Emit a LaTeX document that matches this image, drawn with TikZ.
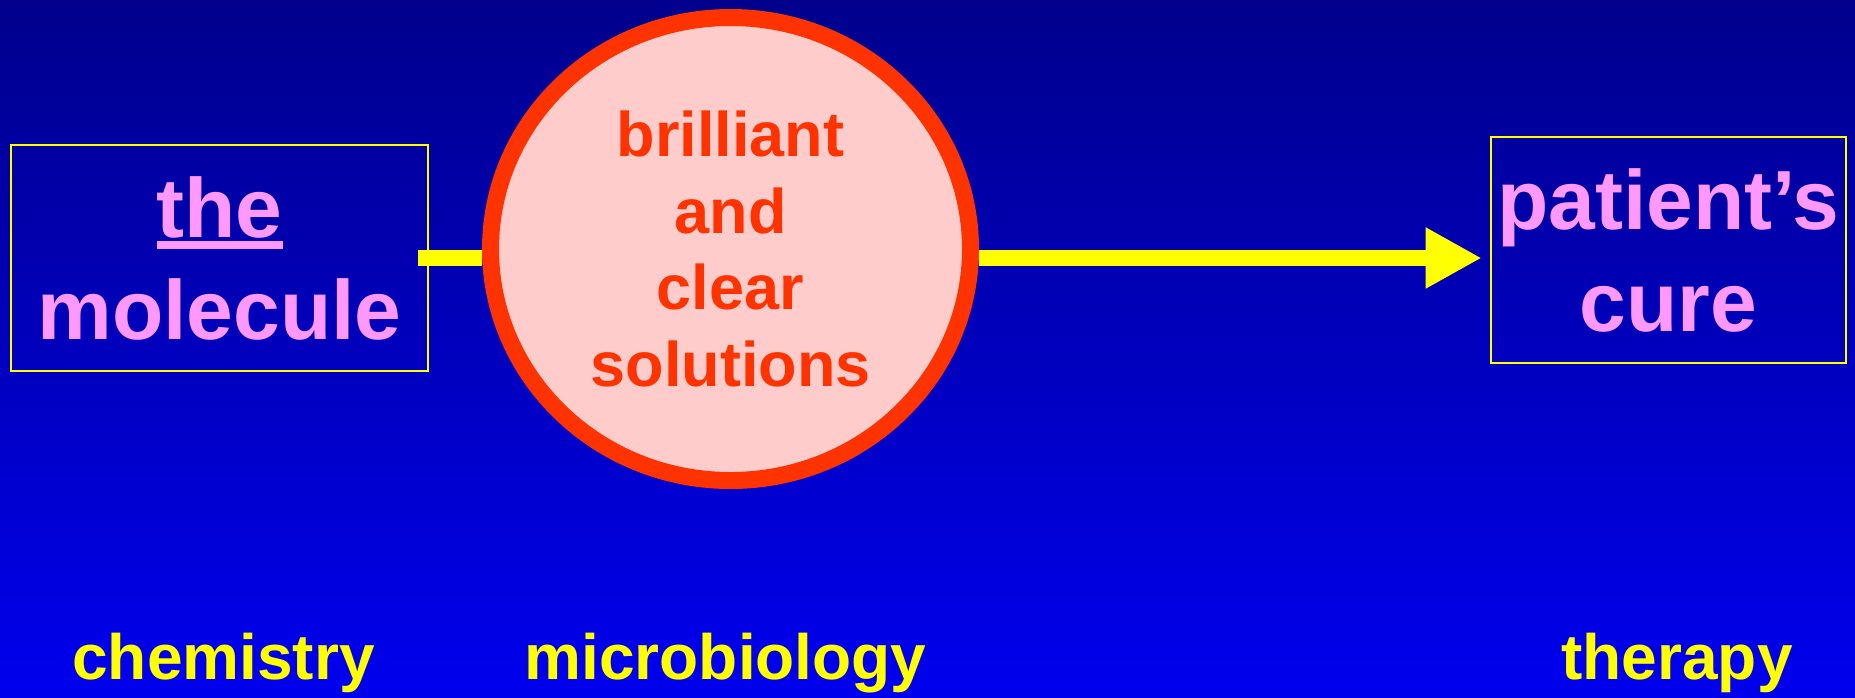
\documentclass[tikz,border=0pt]{standalone}
\usepackage{fontspec}
\setmainfont{Liberation Sans}
\definecolor{bgtop}{RGB}{0,0,140}
\definecolor{bgbottom}{RGB}{0,0,238}
\definecolor{mlpink}{RGB}{255,153,255}
\definecolor{mlred}{RGB}{255,51,0}
\definecolor{mlrose}{RGB}{255,204,204}
\definecolor{mlyellow}{RGB}{255,255,0}
\usetikzlibrary{arrows.meta,shapes.geometric}
\newcommand{\thickul}[1]{\setbox0=\hbox{#1}\rlap{\rule[-6pt]{\wd0}{4pt}}\box0}

\begin{document}
\begin{tikzpicture}[x=0.5pt,y=-0.5pt,
  endbox/.style={draw=mlyellow,line width=1pt,minimum height=113pt,align=center,text=mlpink,font=\fontsize{42}{51}\selectfont\bfseries},
  field/.style={anchor=base,text=mlyellow,font=\fontsize{32}{38}\selectfont\bfseries},
  flow/.style={mlyellow,line width=8pt}]
  \useasboundingbox (0,0) rectangle (1855,697);
  \shade[top color=bgtop,bottom color=bgbottom] (0,0) rectangle (1855,697);
  \node[endbox,minimum width=208.5pt] (mol) at (219.5,258) {\thickul{the}\\molecule};
  \node[draw=mlred,line width=8.5pt,fill=mlrose,ellipse,minimum width=240pt,minimum height=231.5pt,align=center,text=mlred,font=\fontsize{31.5}{38.3}\selectfont\bfseries] (sol) at (730.5,249) {brilliant\\and\\clear\\solutions};
  \node[endbox,minimum width=174.5pt] (cure) at (1668.5,250) {patient’s\\cure};
  \draw[flow,shorten <=-5.5pt] (mol.east) -- (sol.west |- mol.east);
  \draw[flow,-{Triangle[length=28pt,width=28.5pt]},shorten >=4pt] (sol.east |- mol.east) -- (mol.east -| cure.west);
  \node[field] (chem) at (223.6,679) {chemistry};
  \node[field] (micro) at (725.6,679) {microbiology};
  \node[field] (ther) at (1677,679) {therapy};
\end{tikzpicture}
\end{document}
